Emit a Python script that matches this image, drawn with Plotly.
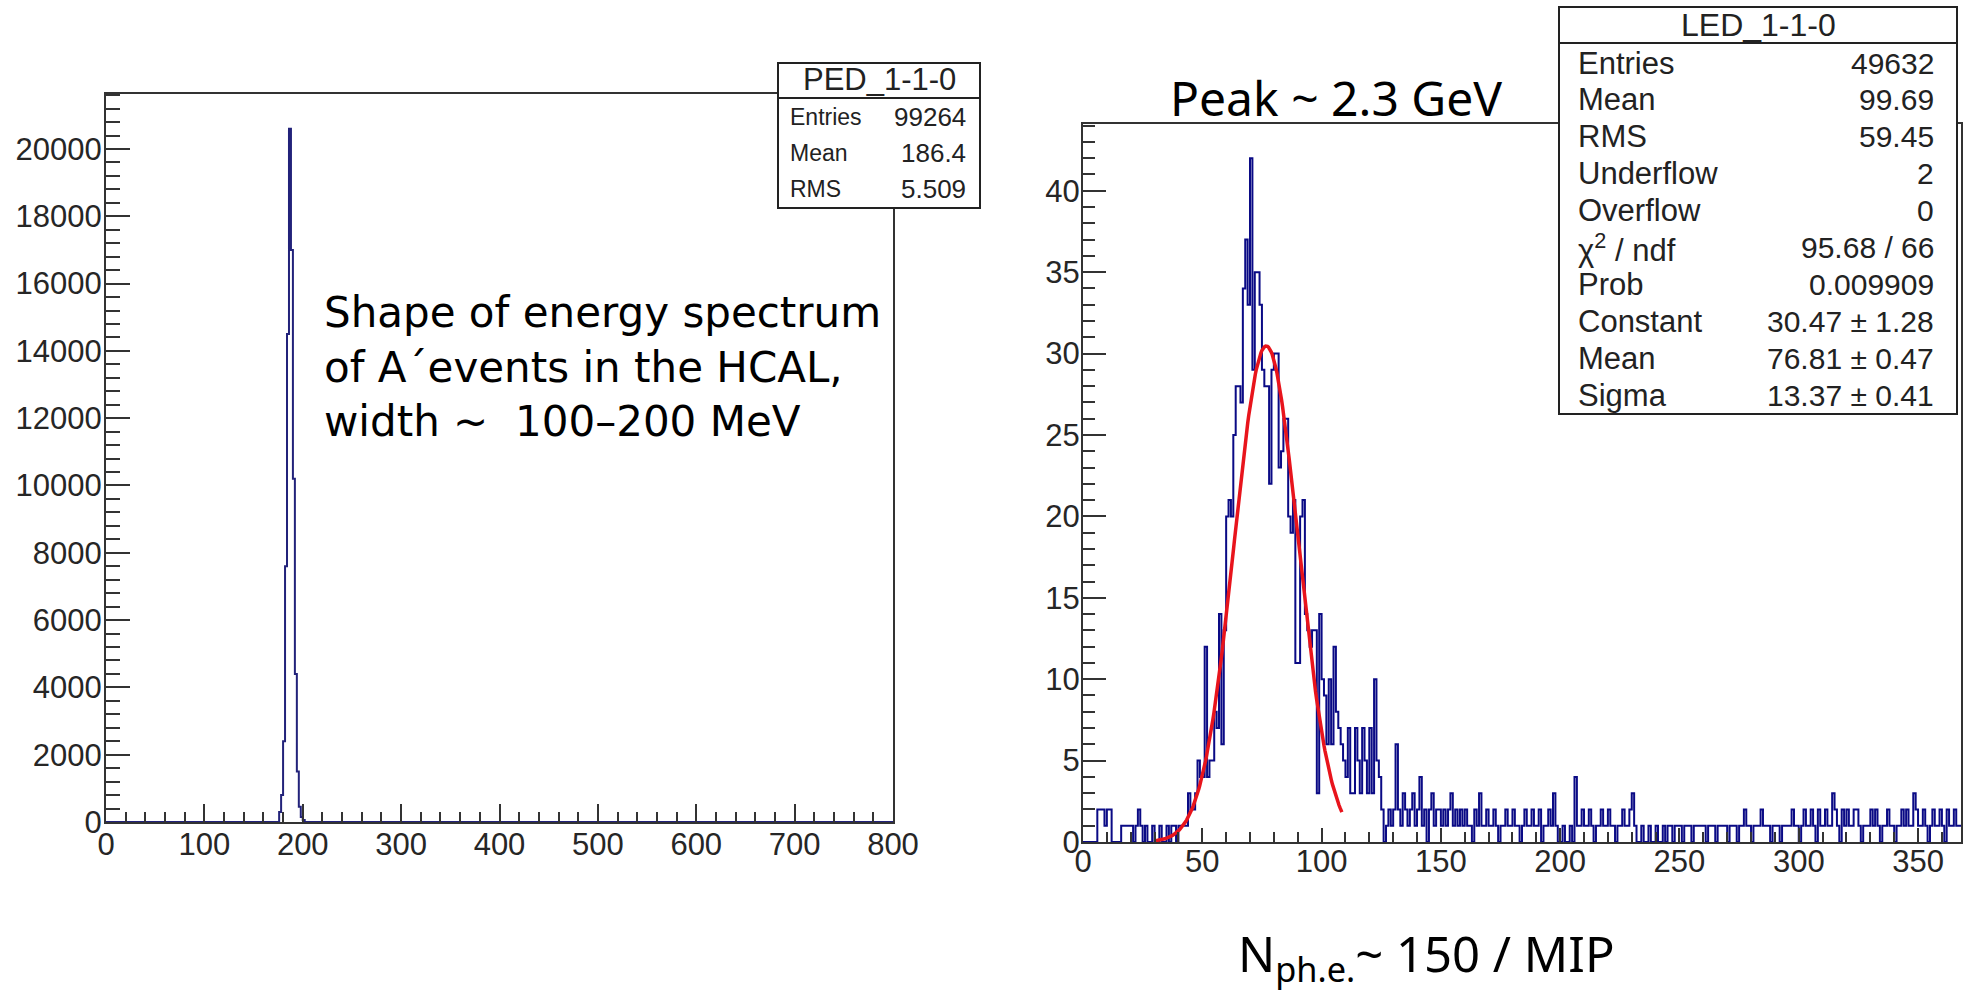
import math
import plotly.graph_objects as go

W, H = 1970, 997

# ---------------- data ----------------
# Left: pedestal histogram PED_1-1-0 (bin width 2, range 0..800)
ped_bin_width = 2
ped_first_edge = 176
ped_counts = [300, 800, 2400, 7600, 14500, 20600, 17000, 10200, 4400, 1500, 450, 150, 60]
ped_xmax = 800
ped_ymax = 21634

# Right: LED histogram LED_1-1-0 (bin width 1, range 0..368)
led_bin_width = 1
led_counts = [
    0, 0, 0, 0, 0, 0, 2, 2, 2, 1,
    2, 2, 0, 0, 0, 0, 1, 1, 1, 1,
    1, 0, 1, 2, 1, 0, 1, 0, 0, 1,
    0, 0, 1, 0, 0, 1, 0, 1, 1, 0,
    1, 1, 1, 1, 3, 2, 2, 3, 5, 4,
    4, 12, 4, 5, 5, 8, 7, 14, 6, 13,
    20, 21, 20, 25, 28, 28, 27, 34, 37, 33,
    42, 29, 35, 35, 33, 29, 28, 28, 22, 29,
    30, 30, 23, 24, 26, 26, 20, 19, 21, 11,
    11, 20, 21, 14, 13, 12, 13, 13, 3, 14,
    10, 9, 6, 10, 6, 12, 8, 7, 6, 5,
    4, 7, 3, 3, 7, 5, 3, 7, 5, 3,
    7, 3, 10, 5, 4, 2, 0, 1, 2, 1,
    2, 6, 2, 1, 3, 2, 1, 2, 3, 1,
    2, 4, 1, 2, 0, 2, 3, 1, 2, 2,
    1, 2, 1, 2, 3, 1, 2, 1, 2, 1,
    2, 1, 1, 0, 2, 1, 3, 1, 1, 2,
    1, 1, 2, 1, 0, 1, 1, 2, 1, 1,
    2, 1, 1, 0, 1, 2, 1, 1, 2, 1,
    1, 2, 0, 1, 1, 2, 1, 3, 1, 0,
    0, 1, 0, 0, 1, 0, 4, 1, 1, 2,
    1, 1, 2, 1, 0, 1, 1, 2, 1, 1,
    2, 1, 1, 0, 1, 1, 2, 1, 1, 2,
    3, 1, 0, 0, 1, 0, 0, 1, 0, 0,
    1, 0, 0, 1, 0, 1, 1, 0, 1, 1,
    1, 0, 1, 1, 1, 0, 1, 1, 1, 1,
    1, 0, 1, 1, 1, 0, 1, 1, 1, 1,
    0, 1, 1, 1, 0, 1, 1, 2, 1, 1,
    0, 1, 1, 1, 2, 1, 1, 1, 0, 1,
    1, 1, 0, 1, 1, 1, 1, 2, 1, 1,
    0, 1, 2, 1, 1, 2, 1, 0, 2, 1,
    1, 2, 1, 1, 3, 2, 1, 0, 2, 1,
    2, 1, 1, 2, 2, 1, 0, 1, 1, 1,
    2, 1, 2, 1, 0, 1, 1, 2, 1, 1,
    0, 1, 1, 2, 1, 2, 1, 1, 3, 2,
    1, 1, 2, 1, 0, 1, 2, 1, 1, 2,
    1, 0, 2, 1, 1, 2, 1, 1,
]
led_xmax = 368
led_ymax = 44.1

# Gaussian fit parameters (from the stats box) and fit range
fit_constant = 30.47
fit_mean = 76.81
fit_sigma = 13.37
fit_range = [30, 108.5]

ped_stats = [("Entries", "99264"), ("Mean", "186.4"), ("RMS", "5.509")]
led_stats = [
    ("Entries", "49632"), ("Mean", "99.69"), ("RMS", "59.45"),
    ("Underflow", "2"), ("Overflow", "0"),
    ("χ<sup>2</sup> / ndf", "95.68 / 66"), ("Prob", "0.009909"),
    ("Constant", "30.47 ± 1.28"), ("Mean", "76.81 ± 0.47"),
    ("Sigma", "13.37 ± 0.41"),
]

left_note = "Shape of energy spectrum<br>of A´events in the HCAL,<br>width ~  100–200 MeV"
peak_note = "Peak ~ 2.3 GeV"
nphe_note = "N<sub>ph.e.</sub>~ 150 / MIP"

# ---------------- helpers ----------------
def px(x):
    return x / W

def py(y):
    return 1 - y / H

def step_xy(first_edge, bw, counts, xmax):
    n_before = int(round(first_edge / bw))
    n_total = int(round(xmax / bw))
    full = [0] * n_before + list(counts)
    full += [0] * (n_total - len(full))
    xs = [i * bw for i in range(len(full) + 1)]
    ys = full + [full[-1]]
    return xs, ys

fig = go.Figure()

pxs, pys = step_xy(ped_first_edge, ped_bin_width, ped_counts, ped_xmax)
fig.add_trace(go.Scatter(x=pxs, y=pys, mode="lines", line=dict(shape="hv", color="#22227a", width=2),
                         xaxis="x", yaxis="y", showlegend=False, hoverinfo="skip"))

lxs, lys = step_xy(0, led_bin_width, led_counts, led_xmax)
fig.add_trace(go.Scatter(x=lxs, y=lys, mode="lines", line=dict(shape="hv", color="#0a0a85", width=2),
                         xaxis="x2", yaxis="y2", showlegend=False, hoverinfo="skip"))

nfit = 200
fx = [fit_range[0] + (fit_range[1] - fit_range[0]) * i / (nfit - 1) for i in range(nfit)]
fy = [fit_constant * math.exp(-0.5 * ((v - fit_mean) / fit_sigma) ** 2) for v in fx]
fig.add_trace(go.Scatter(x=fx, y=fy, mode="lines", line=dict(color="#e8141c", width=3.5),
                         xaxis="x2", yaxis="y2", showlegend=False, hoverinfo="skip"))

tick_font = dict(family="Liberation Sans, Arial, sans-serif", size=31, color="#262626")
axis_common = dict(showline=True, linecolor="#333333", linewidth=2, mirror=True, ticks="inside",
                   tickwidth=2, tickcolor="#333333", showgrid=False, zeroline=False,
                   tickfont=tick_font, tick0=0, fixedrange=True, tickformat="d",
                   automargin=False)

fig.update_layout(
    template="none",
    width=W, height=H, autosize=False, margin=dict(l=0, r=0, t=0, b=0, pad=0, autoexpand=False),
    paper_bgcolor="white", plot_bgcolor="white",
    xaxis=dict(domain=[px(106), px(893)], range=[0, ped_xmax], anchor="y", dtick=100, ticklen=18,
               ticklabelstandoff=-6,
               minor=dict(dtick=20, ticklen=10, tickwidth=2, ticks="inside", tickcolor="#333333"),
               **axis_common),
    yaxis=dict(domain=[py(822), py(94)], range=[0, ped_ymax], anchor="x", dtick=2000, ticklen=24,
               ticklabelstandoff=-4,
               minor=dict(dtick=400, ticklen=14, tickwidth=2, ticks="inside", tickcolor="#333333"),
               **axis_common),
    xaxis2=dict(domain=[px(1083), px(1961)], range=[0, led_xmax], anchor="y2", dtick=50, ticklen=14,
                ticklabelstandoff=-9,
                minor=dict(dtick=10, ticklen=10, tickwidth=2, ticks="inside", tickcolor="#333333"),
                **axis_common),
    yaxis2=dict(domain=[py(842), py(124)], range=[0, led_ymax], anchor="x2", dtick=5, ticklen=23,
                ticklabelstandoff=-5,
                minor=dict(dtick=1, ticklen=12, tickwidth=2, ticks="inside", tickcolor="#333333"),
                **axis_common),
)

shapes = []
annotations = []
stat_font = "Liberation Sans, Arial, sans-serif"

def stat_box(x0, x1, y0, y1, sep_y, title, title_y, title_size, rows, row_y0, row_dy,
             lab_size, val_size, pad_l, pad_r):
    shapes.append(dict(type="rect", xref="paper", yref="paper", x0=px(x0), x1=px(x1), y0=py(y1), y1=py(y0),
                       fillcolor="white", line=dict(color="#222222", width=2), layer="above"))
    shapes.append(dict(type="line", xref="paper", yref="paper", x0=px(x0), x1=px(x1), y0=py(sep_y), y1=py(sep_y),
                       line=dict(color="#222222", width=2), layer="above"))
    annotations.append(dict(text=title, xref="paper", yref="paper", x=px((x0 + x1) / 2), y=py(title_y),
                            xanchor="center", yanchor="middle", showarrow=False,
                            font=dict(family=stat_font, size=title_size, color="#222222")))
    for i, (lab, val) in enumerate(rows):
        yy = row_y0 + i * row_dy
        annotations.append(dict(text=lab, xref="paper", yref="paper", x=px(x0 + pad_l), y=py(yy),
                                xanchor="left", yanchor="middle", showarrow=False,
                                font=dict(family=stat_font, size=lab_size, color="#222222")))
        annotations.append(dict(text=val, xref="paper", yref="paper", x=px(x1 - pad_r), y=py(yy),
                                xanchor="right", yanchor="middle", showarrow=False,
                                font=dict(family=stat_font, size=val_size, color="#222222")))

stat_box(778, 980, 63, 208, 98, "PED_1-1-0", 80, 31, ped_stats, 117, 36, 23, 26, 10, 12)
stat_box(1559, 1957, 7, 414, 43, "LED_1-1-0", 25, 32, led_stats, 63, 36.9, 31, 30, 17, 21)

annotations.append(dict(text=left_note, xref="paper", yref="paper", x=px(322), y=py(367),
                        xanchor="left", yanchor="middle", align="left", showarrow=False,
                        font=dict(family="DejaVu Sans, Noto Sans, sans-serif", size=42, color="black")))
annotations.append(dict(text=peak_note, xref="paper", yref="paper", x=px(1336), y=py(97),
                        xanchor="center", yanchor="middle", showarrow=False,
                        font=dict(family="Noto Sans, Lato, sans-serif", size=48, color="black")))
annotations.append(dict(text=nphe_note, xref="paper", yref="paper", x=px(1426), y=py(956),
                        xanchor="center", yanchor="middle", showarrow=False,
                        font=dict(family="Noto Sans, Lato, sans-serif", size=49, color="black")))

fig.update_layout(shapes=shapes, annotations=annotations)

fig.write_html(
    "out.html",
    config={"responsive": False},
    post_script=("document.body.style.margin='0';"
                 "document.body.style.overflow='hidden';"
                 "document.documentElement.style.overflow='hidden';"),
)
